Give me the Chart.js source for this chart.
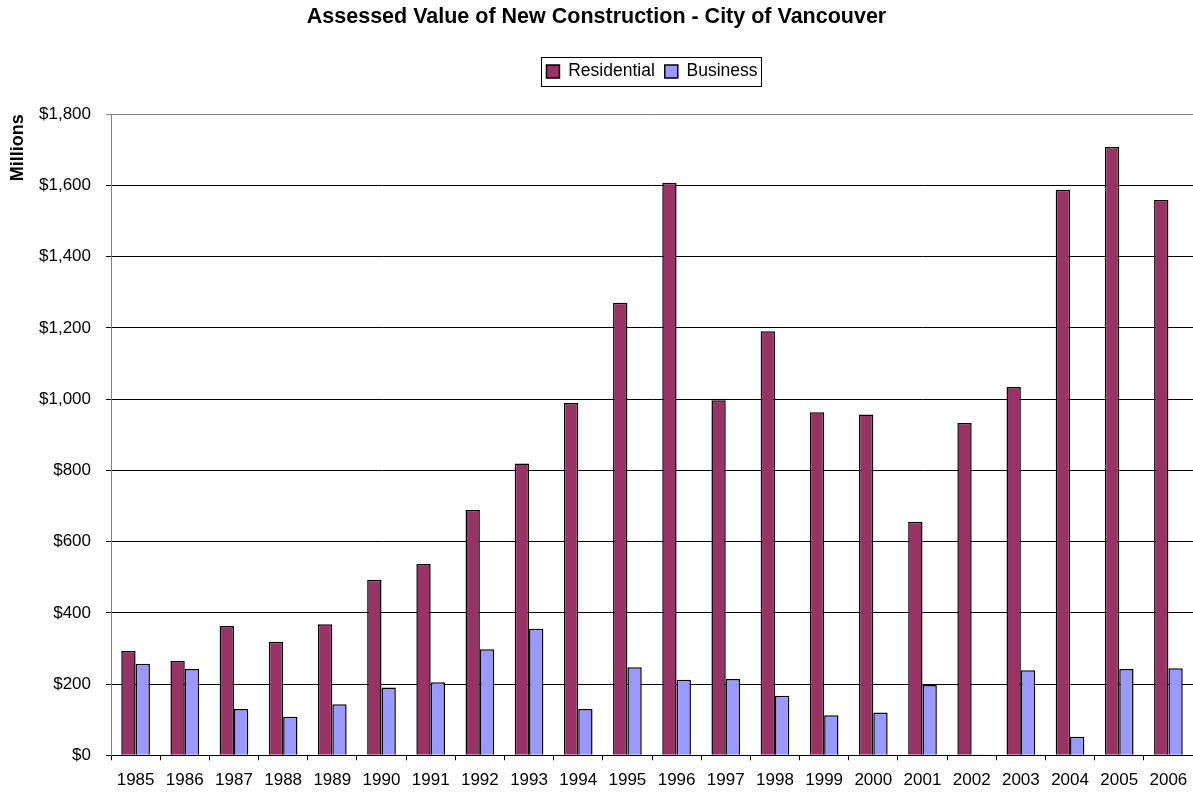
<!DOCTYPE html>
<html>
<head>
<meta charset="utf-8">
<script src="https://cdn.jsdelivr.net/npm/chart.js@4/dist/chart.umd.min.js"></script>
<style>
  html, body { margin: 0; padding: 0; background: #fff; }
  canvas { display: block; }
</style>
</head>
<body>
<canvas id="chart-construcao" width="1193" height="792"></canvas>
<script>
var anos = ["1985", "1986", "1987", "1988", "1989", "1990", "1991", "1992", "1993", "1994", "1995",
  "1996", "1997", "1998", "1999", "2000", "2001", "2002", "2003", "2004", "2005", "2006"];
var residencial = [293, 265, 363, 319, 368, 493, 537, 689, 819, 989, 1271,
  1608, 997, 1191, 963, 957, 656, 933, 1034, 1588, 1708, 1559];
var comercial = [257, 242, 130, 108, 143, 190, 205, 298, 355, 130, 247,
  212, 214, 167, 112, 120, 197, 2, 239, 52, 242, 244];
var eixoY = { min: 0, max: 1800, passo: 200 };

var fonte = "'Liberation Sans', Arial, sans-serif";

// gives the legend some room below it and a frame, like the Excel original
var espacoLegenda = {
  id: "espacoLegenda",
  beforeLayout: function (chart) {
    var lg = chart.legend;
    if (lg && !lg._espaco) {
      var fitOrig = lg.fit;
      lg.fit = function () {
        fitOrig.call(this);
        this.height += 24;
      };
      lg._espaco = true;
    }
  },
  afterDraw: function (chart) {
    var caixas = chart.legend && chart.legend.legendHitBoxes;
    if (!caixas || !caixas.length) return;
    var esq = caixas[0].left, dir = 0, topo = caixas[0].top, base = 0;
    caixas.forEach(function (c) {
      esq = Math.min(esq, c.left);
      dir = Math.max(dir, c.left + c.width);
      topo = Math.min(topo, c.top);
      base = Math.max(base, c.top + c.height);
    });
    var ctx = chart.ctx;
    ctx.save();
    ctx.strokeStyle = "#000";
    ctx.lineWidth = 1;
    ctx.strokeRect(Math.round(esq - 5) + 0.5, Math.round(topo - 6) + 0.5,
      Math.round(dir - esq + 9), Math.round(base - topo + 11));
    ctx.restore();
  }
};

document.addEventListener("DOMContentLoaded", function () {
  var ctx = document.getElementById("chart-construcao").getContext("2d");
  Chart.defaults.color = "#000";
  Chart.defaults.font.family = fonte;

  new Chart(ctx, {
    type: "bar",
    data: {
      labels: anos,
      datasets: [
        {
          label: "Residential",
          data: residencial,
          backgroundColor: "#993366",
          borderColor: "#000",
          borderWidth: 1.5,
        },
        {
          label: "Business",
          data: comercial,
          backgroundColor: "#9999ff",
          borderColor: "#000",
          borderWidth: 1.5,
        },
      ],
    },
    options: {
      responsive: false,
      animation: false,
      layout: { padding: { left: 0, right: 0, top: 0, bottom: -8 } },
      datasets: {
        bar: { categoryPercentage: 0.583, barPercentage: 1.0 },
      },
      plugins: {
        title: {
          display: true,
          text: "Assessed Value of New Construction - City of Vancouver",
          font: { size: 21.5, weight: "bold" },
          padding: { top: 4, bottom: 23 },
          color: "#000",
        },
        legend: {
          display: true,
          fullSize: false,
          labels: {
            boxWidth: 13,
            boxHeight: 13,
            padding: 10,
            font: { size: 17.5 },
            color: "#000",
          },
        },
        tooltip: { enabled: false },
      },
      scales: {
        x: {
          grid: {
            offset: true,
            drawOnChartArea: false,
            tickLength: 5,
            color: "#000",
          },
          border: { color: "#000" },
          ticks: {
            autoSkip: false,
            maxRotation: 0,
            padding: 5,
            font: { size: 17, lineHeight: 1.75 },
            color: "#000",
          },
        },
        y: {
          min: eixoY.min,
          max: eixoY.max,
          afterFit: function (scale) {
            scale.width = 111;
          },
          grid: {
            tickLength: 5,
            color: function (c) {
              return c.tick && c.tick.value === eixoY.max ? "#808080" : "#000";
            },
          },
          border: { color: "#808080" },
          ticks: {
            stepSize: eixoY.passo,
            padding: 15,
            font: { size: 17 },
            color: "#000",
            callback: function (v) {
              return "$" + Number(v).toLocaleString("en-US");
            },
          },
          title: {
            display: true,
            text: "Millions",
            align: "end",
            font: { size: 18, weight: "bold" },
            padding: { top: 7, bottom: 0 },
            color: "#000",
          },
        },
      },
    },
    plugins: [espacoLegenda],
  });
});
</script>
</body>
</html>
